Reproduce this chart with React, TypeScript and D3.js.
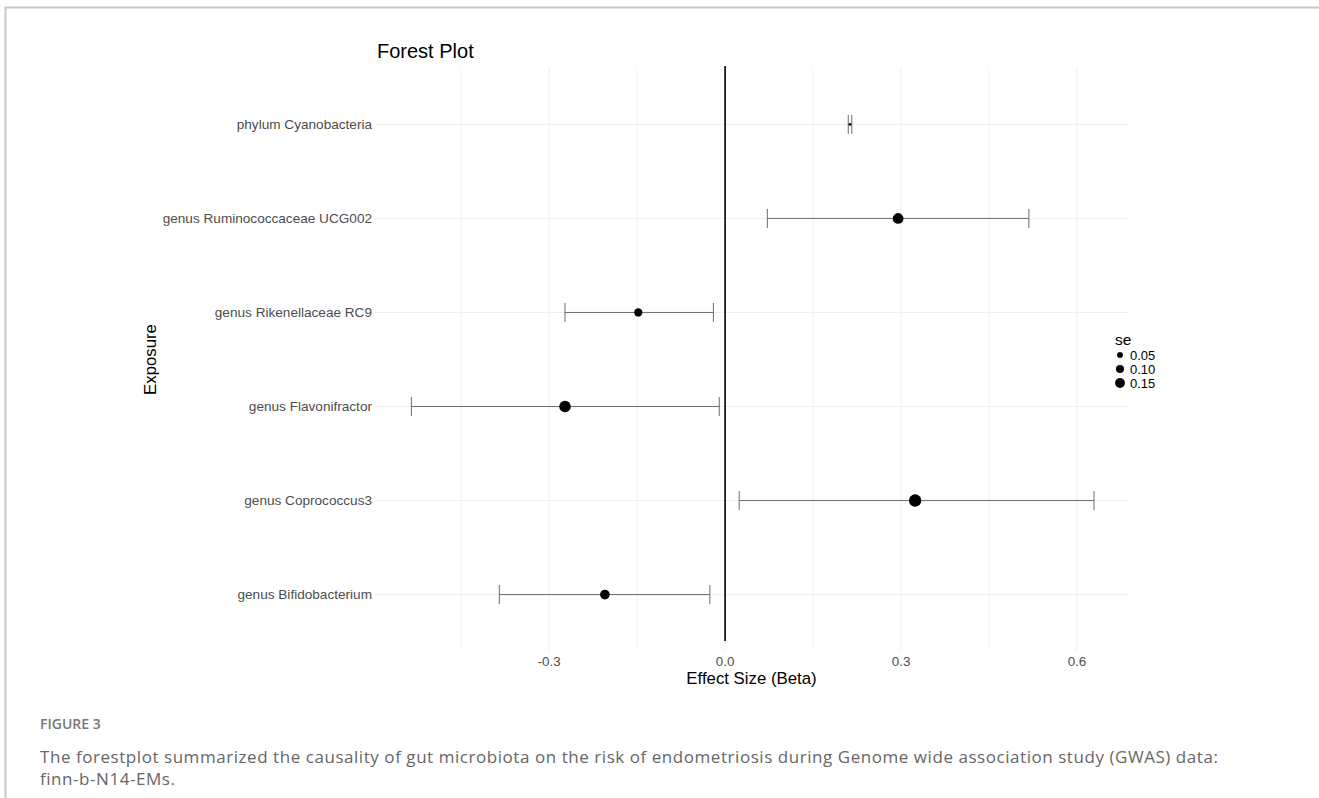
import React from 'react'
import * as d3 from 'd3'

// exposures, top to bottom
const exposures = [
  'phylum Cyanobacteria',
  'genus Ruminococcaceae UCG002',
  'genus Rikenellaceae RC9',
  'genus Flavonifractor',
  'genus Coprococcus3',
  'genus Bifidobacterium',
]
const beta = [0.213, 0.295, -0.148, -0.273, 0.324, -0.205]
const ciLow = [0.210, 0.072, -0.273, -0.535, 0.024, -0.385]
const ciHigh = [0.216, 0.518, -0.020, -0.010, 0.629, -0.026]
const se = [0.0015, 0.114, 0.065, 0.134, 0.154, 0.092]

const xTicks = [-0.3, 0, 0.3, 0.6]
const xMinor = [-0.45, -0.15, 0.15, 0.45]
const legendSe = [0.05, 0.1, 0.15]

const W = 1319
const H = 798
const chartFont = '"Liberation Sans", Arial, sans-serif'
const captionFont = '"Open Sans", "Noto Sans", sans-serif'

const App = () => {
  const panel = { left: 375, right: 1128, top: 68, bottom: 651 }

  const x = d3.scaleLinear().domain([-0.597, 0.687]).range([panel.left, panel.right])
  const y = d3.scalePoint().domain(exposures).range([panel.top, panel.bottom]).padding(0.6)

  // ggplot-like size scale: area linear in se
  const rMin = 1.3
  const rMax = 6.2
  const seExt = d3.extent(se) as [number, number]
  const size = (v: number) => {
    const t = (v - seExt[0]) / (seExt[1] - seExt[0])
    return Math.sqrt(rMin * rMin + (rMax * rMax - rMin * rMin) * t)
  }

  const cap = 9.5
  const grid = '#f0f0f0'
  const bar = '#6b6b6b'

  return (
    <svg width={W} height={H} style={{ position: 'absolute', left: 0, top: 0, background: '#fff' }}>
      {/* frame */}
      <path d={`M5.5,${H} V7.5 H${W}`} fill="none" stroke="#c8c8c8" strokeWidth={2} />

      {/* grid */}
      {xMinor.map((t) => (
        <line key={'mi' + t} x1={x(t)} x2={x(t)} y1={panel.top} y2={panel.bottom} stroke={grid} strokeWidth={0.8} />
      ))}
      {xTicks.map((t) => (
        <line key={'ma' + t} x1={x(t)} x2={x(t)} y1={panel.top} y2={panel.bottom} stroke={grid} strokeWidth={1.1} />
      ))}
      {exposures.map((e) => (
        <line key={'gy' + e} x1={panel.left} x2={panel.right} y1={y(e)} y2={y(e)} stroke={grid} strokeWidth={1.1} />
      ))}

      {/* zero line */}
      <line x1={x(0)} x2={x(0)} y1={panel.top - 2} y2={panel.bottom - 10} stroke="#000" strokeWidth={1.6} />

      {/* error bars and points */}
      {exposures.map((e, i) => {
        const cy = y(e) as number
        return (
          <g key={e}>
            <line x1={x(ciLow[i])} x2={x(ciHigh[i])} y1={cy} y2={cy} stroke={bar} strokeWidth={1} />
            <line x1={x(ciLow[i])} x2={x(ciLow[i])} y1={cy - cap} y2={cy + cap} stroke={bar} strokeWidth={1} />
            <line x1={x(ciHigh[i])} x2={x(ciHigh[i])} y1={cy - cap} y2={cy + cap} stroke={bar} strokeWidth={1} />
            <circle cx={x(beta[i])} cy={cy} r={size(se[i])} fill="#000" />
          </g>
        )
      })}

      {/* y labels */}
      {exposures.map((e) => (
        <text key={'yl' + e} x={panel.left - 3} y={y(e)} dy="0.35em" textAnchor="end"
          fontFamily={chartFont} fontSize={13.6} fill="#4d4d4d">{e}</text>
      ))}

      {/* x tick labels */}
      {xTicks.map((t) => (
        <text key={'xl' + t} x={x(t)} y={661} dy="0.35em" textAnchor="middle"
          fontFamily={chartFont} fontSize={13.4} fill="#4d4d4d">{d3.format('.1f')(t).replace('−', '-')}</text>
      ))}

      {/* axis titles */}
      <text x={(panel.left + panel.right) / 2} y={678} dy="0.35em" textAnchor="middle"
        fontFamily={chartFont} fontSize={16.8} fill="#000">Effect Size (Beta)</text>
      <text transform={`translate(150,${(panel.top + panel.bottom) / 2}) rotate(-90)`} dy="0.35em" textAnchor="middle"
        fontFamily={chartFont} fontSize={16.8} fill="#000">Exposure</text>

      {/* title */}
      <text x={377} y={51} dy="0.35em" fontFamily={chartFont} fontSize={20} fill="#000">Forest Plot</text>

      {/* legend */}
      <text x={1115} y={340} dy="0.35em" fontFamily={chartFont} fontSize={15.5} fill="#000">se</text>
      {legendSe.map((v, i) => (
        <g key={'lg' + v} transform={`translate(1120,${355 + i * 14})`}>
          <circle r={size(v) * 0.8} fill="#000" />
          <text x={10} dy="0.35em" fontFamily={chartFont} fontSize={13} fill="#000">{v.toFixed(2)}</text>
        </g>
      ))}

      {/* caption */}
      <text x={40} y={724} dy="0.35em" fontFamily={captionFont} fontSize={14} fontWeight={600} fill="#777">FIGURE 3</text>
      <text x={40} y={757} dy="0.35em" fontFamily={captionFont} fontSize={17} letterSpacing={0.55} fill="#666">
        The forestplot summarized the causality of gut microbiota on the risk of endometriosis during Genome wide association study (GWAS) data:
      </text>
      <text x={40} y={779} dy="0.35em" fontFamily={captionFont} fontSize={17} letterSpacing={0.55} fill="#666">finn-b-N14-EMs.</text>
    </svg>
  )
}

export default App
